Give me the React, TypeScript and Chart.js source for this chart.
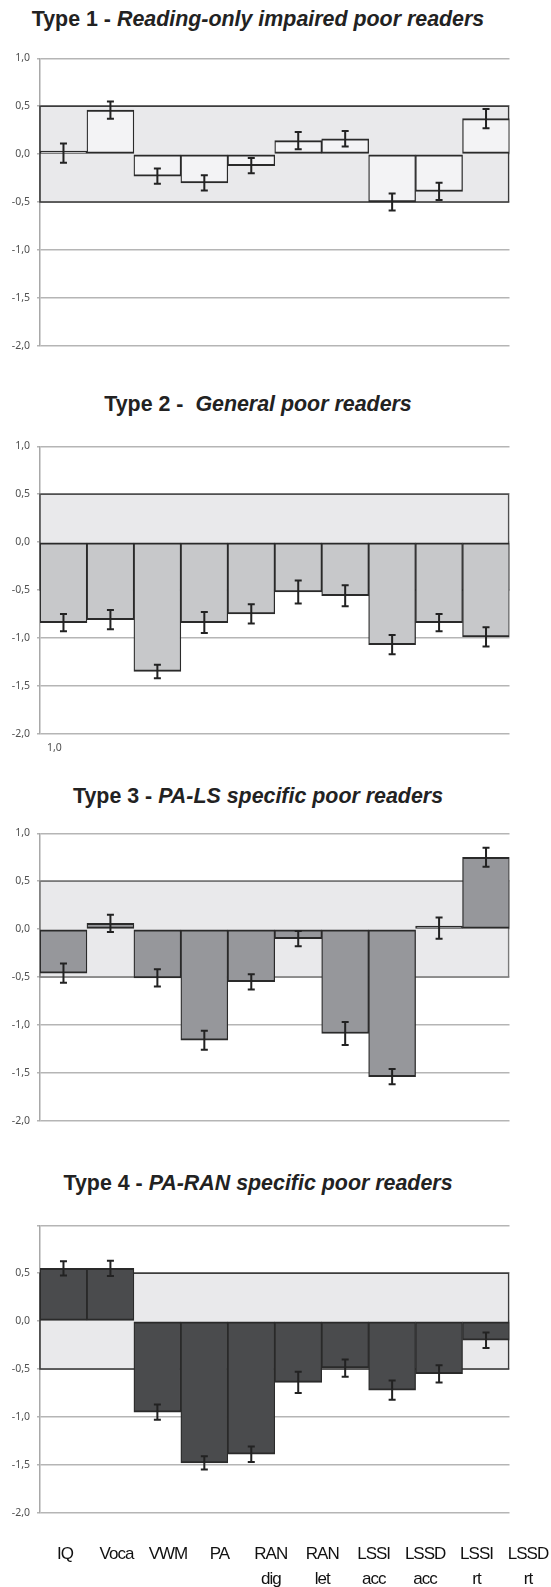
import React, { useEffect, useRef } from "react";
import { Chart, registerables } from "chart.js";

Chart.register(...registerables);

// ---------- data ----------
const categories = ["IQ", "Voca", "VWM", "PA", "RAN dig", "RAN let", "LSSI acc", "LSSD acc", "LSSI rt", "LSSD rt"];
const axisLabels = [["IQ"], ["Voca"], ["VWM"], ["PA"], ["RAN", "dig"], ["RAN", "let"], ["LSSI", "acc"], ["LSSD", "acc"], ["LSSI", "rt"], ["LSSD", "rt"]];

const yMin = -2;
const yMax = 1;
const yStep = 0.5;
const normalBandFrom = -0.5;
const normalBandTo = 0.5;

const type1Title = ["Type 1 - ", "Reading-only impaired poor readers"];
const type1Means = [0.01, 0.46, -0.23, -0.3, -0.12, 0.14, 0.16, -0.5, -0.39, 0.37];
const type1Errors = [0.1, 0.09, 0.08, 0.08, 0.08, 0.09, 0.08, 0.09, 0.09, 0.1];

const type2Title = ["Type 2 -  ", "General poor readers"];
const type2Means = [-0.84, -0.81, -1.35, -0.84, -0.75, -0.52, -0.56, -1.07, -0.84, -0.99];
const type2Errors = [0.09, 0.1, 0.07, 0.11, 0.1, 0.12, 0.11, 0.1, 0.09, 0.1];

const type3Title = ["Type 3 - ", "PA-LS specific poor readers"];
const type3Means = [-0.46, 0.06, -0.51, -1.16, -0.55, -0.1, -1.09, -1.54, 0.01, 0.75];
const type3Errors = [0.1, 0.09, 0.09, 0.1, 0.08, 0.08, 0.12, 0.08, 0.11, 0.1];

const type4Title = ["Type 4 - ", "PA-RAN specific poor readers"];
const type4Means = [0.55, 0.55, -0.95, -1.48, -1.39, -0.64, -0.49, -0.72, -0.55, -0.2];
const type4Errors = [0.075, 0.08, 0.08, 0.07, 0.08, 0.11, 0.09, 0.1, 0.09, 0.08];

const strayLabel = "1,0";

// ---------- styling / layout ----------
const PAGE_W = 551;
const PLOT_H = 294;
const PAD_V = 10;

const panels = [
  { title: type1Title, means: type1Means, errors: type1Errors, fill: "#f3f3f5", bandStroke: "#3c3c3c", canvasTop: 45, titleTop: 6, hideTop: false },
  { title: type2Title, means: type2Means, errors: type2Errors, fill: "#c7c8ca", bandStroke: "#505050", canvasTop: 433, titleTop: 391, hideTop: false },
  { title: type3Title, means: type3Means, errors: type3Errors, fill: "#96979b", bandStroke: "#7a7a7a", canvasTop: 820, titleTop: 783, hideTop: false },
  { title: type4Title, means: type4Means, errors: type4Errors, fill: "#4a4b4d", bandStroke: "#3c3c3c", canvasTop: 1212, titleTop: 1170, hideTop: true },
];

const tickFont = { family: "'Noto Sans', 'DejaVu Sans', sans-serif", size: 10.5 };

const bandPlugin = {
  id: "normBand",
  beforeDatasetsDraw(chart: any, _args: any, opts: any) {
    const { ctx, chartArea, scales } = chart;
    const y = scales.y;
    const top = y.getPixelForValue(opts.to);
    const bot = y.getPixelForValue(opts.from);
    ctx.save();
    ctx.beginPath();
    ctx.rect(chartArea.left - 1, chartArea.top - 2, chartArea.right - chartArea.left + 1, chartArea.bottom - chartArea.top + 4);
    ctx.clip();
    ctx.fillStyle = opts.fill;
    ctx.fillRect(chartArea.left, top, chartArea.right - chartArea.left, bot - top);
    ctx.strokeStyle = opts.stroke;
    ctx.lineWidth = 1.6;
    ctx.strokeRect(chartArea.left, top, chartArea.right - chartArea.left - 0.8, bot - top);
    ctx.restore();
  },
};

const errorBarPlugin = {
  id: "errBars",
  afterDatasetsDraw(chart: any) {
    const { ctx, scales } = chart;
    const y = scales.y;
    chart.data.datasets.forEach((ds: any, di: number) => {
      if (!ds.errors) return;
      const meta = chart.getDatasetMeta(di);
      meta.data.forEach((bar: any, i: number) => {
        const v = ds.data[i];
        const e = ds.errors[i];
        const x = bar.x;
        const y1 = y.getPixelForValue(v + e);
        const y2 = y.getPixelForValue(v - e);
        ctx.save();
        ctx.strokeStyle = "#222";
        ctx.lineWidth = 2;
        ctx.beginPath();
        ctx.moveTo(x, y1);
        ctx.lineTo(x, y2);
        ctx.moveTo(x - 3.5, y1);
        ctx.lineTo(x + 3.5, y1);
        ctx.moveTo(x - 3.5, y2);
        ctx.lineTo(x + 3.5, y2);
        ctx.stroke();
        ctx.restore();
      });
    });
  },
};

const tightTextPlugin = {
  id: "tightText",
  beforeDraw(chart: any) {
    (chart.ctx as any).letterSpacing = "-1px";
  },
};

function fmt(v: number) {
  return v.toFixed(1).replace(".", ",");
}

export default function App() {
  const refs = useRef<(HTMLCanvasElement | null)[]>([]);
  const labelRef = useRef<HTMLCanvasElement | null>(null);

  useEffect(() => {
    const charts: Chart[] = [];
    panels.forEach((p, idx) => {
      const canvas = refs.current[idx];
      if (!canvas) return;
      charts.push(
        new Chart(canvas, {
          type: "bar",
          data: {
            labels: categories,
            datasets: [
              {
                data: p.means,
                errors: p.errors,
                backgroundColor: p.fill,
                borderColor: "#2a2a2a",
                borderWidth: { top: 2, bottom: 2, left: 1.3, right: 1.3 },
                borderSkipped: false,
                minBarLength: 3,
                barPercentage: 1,
                categoryPercentage: 1,
              } as any,
            ],
          },
          options: {
            responsive: false,
            animation: false,
            devicePixelRatio: 1,
            layout: { padding: { left: 0, right: PAGE_W - 509.5, top: PAD_V, bottom: PAD_V } },
            plugins: {
              legend: { display: false },
              tooltip: { enabled: false },
              title: { display: false },
              normBand: { from: normalBandFrom, to: normalBandTo, fill: "#e9e9eb", stroke: p.bandStroke },
            } as any,
            scales: {
              x: { display: false, offset: true },
              y: {
                min: yMin,
                max: yMax,
                ticks: {
                  stepSize: yStep,
                  color: "#505050",
                  font: tickFont,
                  padding: 7,
                  callback: (v: any) => (p.hideTop && Number(v) === yMax ? "" : fmt(Number(v))),
                },
                grid: { color: "#b5b5b5", lineWidth: 1.5, tickLength: 3 },
                border: { color: "#a8a8a8", width: 1.5 },
                afterFit: (s: any) => {
                  s.width = 40;
                },
              },
            },
          },
          plugins: [bandPlugin, errorBarPlugin],
        })
      );
    });

    if (labelRef.current) {
      charts.push(
        new Chart(labelRef.current, {
          type: "bar",
          data: { labels: axisLabels as any, datasets: [] },
          options: {
            responsive: false,
            animation: false,
            devicePixelRatio: 1,
            layout: { padding: { left: 39.3, right: 560 - 553.7, top: 0, bottom: 0 } },
            plugins: { legend: { display: false }, tooltip: { enabled: false } },
            scales: {
              x: {
                grid: { display: false, drawTicks: false },
                border: { display: false },
                ticks: {
                  autoSkip: false,
                  maxRotation: 0,
                  padding: 0,
                  color: "#111",
                  font: { family: "'Liberation Sans', Arial, sans-serif", size: 17, lineHeight: 25 / 17 },
                },
              },
              y: { display: false },
            },
          },
          plugins: [tightTextPlugin],
        })
      );
    }

    return () => charts.forEach((c) => c.destroy());
  }, []);

  const titleStyle = (top: number): React.CSSProperties => ({
    position: "absolute",
    left: 0,
    top,
    width: 516,
    textAlign: "center",
    fontFamily: "'Liberation Sans', Arial, sans-serif",
    fontWeight: "bold",
    fontSize: 21.4,
    lineHeight: "26px",
    color: "#222",
    whiteSpace: "pre",
  });

  return (
    <div style={{ position: "absolute", left: 0, top: 0, width: PAGE_W, height: 1587, overflow: "hidden", background: "#fff" }}>
      {panels.map((p, i) => (
        <div key={"t" + i} style={titleStyle(p.titleTop)}>
          <span>{p.title[0]}</span>
          <span style={{ fontStyle: "italic" }}>{p.title[1]}</span>
        </div>
      ))}
      {panels.map((p, i) => (
        <canvas
          key={"c" + i}
          ref={(el) => {
            refs.current[i] = el;
          }}
          width={PAGE_W}
          height={PLOT_H + 2 * PAD_V}
          style={{ position: "absolute", left: 0, top: p.canvasTop, display: "block" }}
        />
      ))}
      <canvas
        ref={labelRef}
        width={560}
        height={120}
        style={{ position: "absolute", left: 0, top: 1472, display: "block" }}
      />
      <span
        style={{
          position: "absolute",
          left: 47,
          top: 740,
          fontFamily: "'Noto Sans', sans-serif",
          fontSize: 10.5,
          lineHeight: "14px",
          color: "#505050",
        }}
      >
        {strayLabel}
      </span>
    </div>
  );
}
